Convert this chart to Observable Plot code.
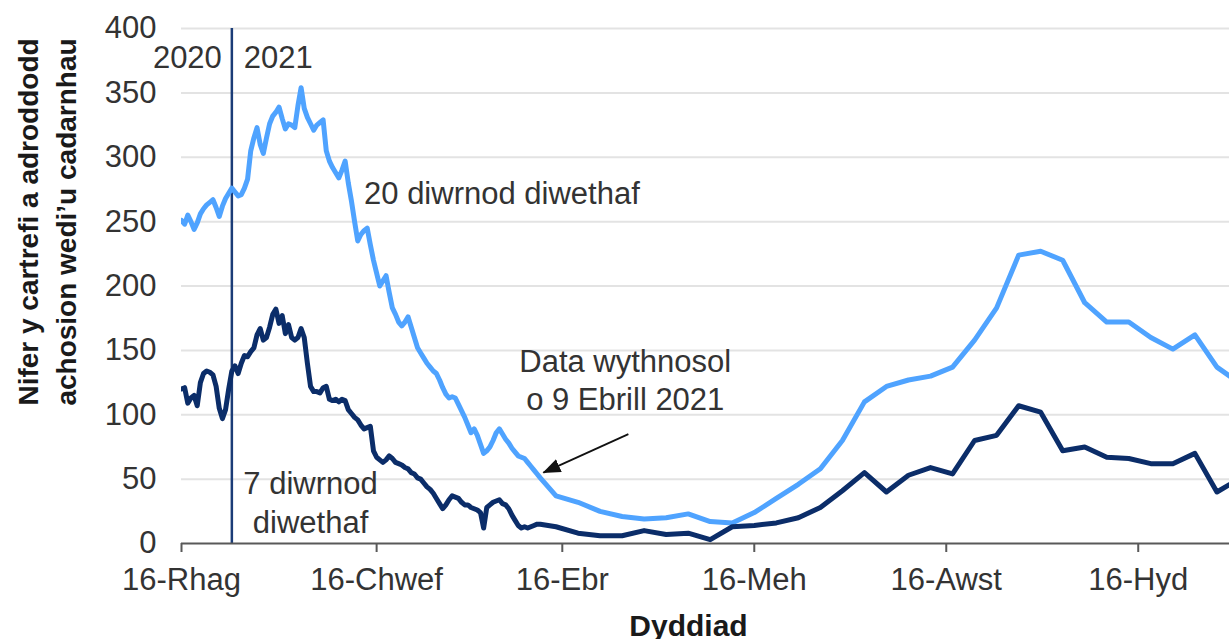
<!DOCTYPE html>
<html><head><meta charset="utf-8">
<script src="https://cdn.jsdelivr.net/npm/d3@7"></script>
<script src="https://cdn.jsdelivr.net/npm/@observablehq/plot@0.6"></script>
<style>
html,body{margin:0;padding:0;background:#fff;}
#chart{width:1229px;height:639px;overflow:hidden;}
</style></head><body><div id="chart"></div>
<script>
// ---- data ----
const seriesNames = ["20 diwrnod diwethaf", "7 diwrnod diwethaf"];
const dailyStart = "2020-12-16";   // daily values, one per day
const weeklyStart = "2021-04-14";  // weekly values, one per week

const light20Daily = [
  251,248,255,250,244,249,256,260,263,265,
  267,261,254,262,268,272,276,273,270,271,
  276,283,305,315,323,310,303,315,326,332,
  335,339,330,322,326,325,323,340,354,338,
  331,326,321,325,327,329,305,297,292,288,
  284,290,297,280,266,250,235,240,243,245,
  232,220,210,200,204,208,195,183,178,172,
  169,172,176,168,160,152,148,144,140,137,
  134,132,127,121,116,113,114,113,108,103,
  98,92,86,89,84,77,70,72,75,80,
  86,89,85,81,78,74,71,68,67,66,
  63,60,57,54,51
];
const dark7Daily = [
  120,121,109,113,115,107,125,132,134,133,
  131,122,105,97,104,120,134,138,132,140,
  146,145,149,152,162,167,158,160,168,178,
  182,171,177,163,170,160,158,160,167,160,
  140,122,118,118,117,121,122,112,111,112,
  110,112,111,104,101,98,96,92,89,90,
  91,72,67,65,63,65,68,66,63,62,
  61,59,58,55,54,51,50,47,44,42,
  39,35,31,27,30,34,37,36,35,32,
  30,30,28,27,26,24,12,28,30,32,
  33,34,31,30,27,22,18,14,12,13,
  12,13,14,15,15
];
const light20Weekly = [37,32,25,21,19,20,23,17,16,24,35,46,58,80,110,122,127,130,137,158,183,224,227,220,187,172,172,160,151,162,137,125];
const dark7Weekly   = [13,8,6,6,10,7,8,3,13,14,16,20,28,41,55,40,53,59,54,80,84,107,102,72,75,67,66,62,62,70,40,50];

const xDomain = ["2020-12-16", "2021-11-14"];
const xTickDates = ["2020-12-16","2021-02-16","2021-04-16","2021-06-16","2021-08-16","2021-10-16"];
const xTickLabels = ["16-Rhag","16-Chwef","16-Ebr","16-Meh","16-Awst","16-Hyd"];
const yTicks = [0,50,100,150,200,250,300,350,400];
const yearBreak = "2021-01-01";
const yearLabels = ["2020", "2021"];
const yTitle = "Nifer y cartrefi a adroddodd\nachosion wedi\u2019u cadarnhau";
const xTitle = "Dyddiad";
const notes = [
  {date:"2021-02-12", value:273, text:"20 diwrnod diwethaf", anchor:"start"},
  {date:"2021-05-06", value:128, text:"Data wythnosol\no 9 Ebrill 2021", anchor:"middle"},
  {date:"2021-01-26", value:33, text:"7 diwrnod\ndiwethaf", anchor:"middle"}
];
const arrowData = [{from:"2021-05-07", fromV:85, to:"2021-04-10", toV:55}];

// ---- build ----
const parse = d3.utcParse("%Y-%m-%d");
const fmt = d3.utcFormat("%Y-%m-%d");
const rows = [];
const d0 = parse(dailyStart), w0 = parse(weeklyStart);
light20Daily.forEach((v,i)=>rows.push({date:d3.utcDay.offset(d0,i), value:v, series:seriesNames[0]}));
light20Weekly.forEach((v,i)=>rows.push({date:d3.utcDay.offset(w0,7*i), value:v, series:seriesNames[0]}));
dark7Daily.forEach((v,i)=>rows.push({date:d3.utcDay.offset(d0,i), value:v, series:seriesNames[1]}));
dark7Weekly.forEach((v,i)=>rows.push({date:d3.utcDay.offset(w0,7*i), value:v, series:seriesNames[1]}));

const font = "'Liberation Sans', Arial, Helvetica, sans-serif";
const txt = "#333333";
const yb = parse(yearBreak);
const fs = 31;

const svg = Plot.plot({
  width: 1229, height: 639,
  marginLeft: 181, marginRight: 0, marginTop: 28, marginBottom: 96,
  style: {fontFamily: font, background: "#fff", color: txt, overflow: "hidden"},
  x: {type: "utc", domain: xDomain.map(parse)},
  y: {domain: [0, 400]},
  color: {domain: seriesNames, range: ["#4fa3ff", "#0b2d69"]},
  marks: [
    Plot.ruleY(yTicks.filter(d => d > 0), {stroke: "#e3e3e3", strokeWidth: 2}),
    Plot.axisY({ticks: yTicks, tickSize: 0, tickPadding: 25, label: null, fontSize: fs, fill: txt}),
    Plot.ruleX([yb], {stroke: "#1b3c77", strokeWidth: 2.5}),
    Plot.lineY(rows, {x: "date", y: "value", z: "series", stroke: "series", strokeWidth: 5, clip: true, strokeLinejoin: "round"}),
    Plot.ruleY([0], {stroke: "#595959", strokeWidth: 2}),
    Plot.axisX({ticks: xTickDates.map(parse), tickFormat: d => xTickLabels[xTickDates.indexOf(fmt(d))],
      tickSize: 9, tickPadding: 15, label: null, fontSize: fs, stroke: "#595959", strokeWidth: 2, fill: txt}),
    Plot.text([yearLabels[0]], {x: () => yb, y: () => 377, text: d => d, textAnchor: "end", dx: -10, fontSize: fs, fill: txt}),
    Plot.text([yearLabels[1]], {x: () => yb, y: () => 377, text: d => d, textAnchor: "start", dx: 12, fontSize: fs, fill: txt}),
    ...notes.map(n => Plot.text([n], {x: d => parse(d.date), y: "value", text: "text", textAnchor: n.anchor, lineAnchor: "middle", lineHeight: 1.25, fontSize: fs, fill: txt})),
    Plot.link(arrowData, {x1: d => parse(d.from), y1: "fromV", x2: d => parse(d.to), y2: "toV", stroke: "#111", strokeWidth: 1.8}),
    Plot.text([yTitle], {frameAnchor: "left", text: d => d, rotate: -90, textAnchor: "middle", lineAnchor: "middle", dx: -137, dy: -64, lineHeight: 1.38, fontSize: 28, fontWeight: "bold", fill: "#1a1a1a"}),
    Plot.text([xTitle], {frameAnchor: "bottom", text: d => d, textAnchor: "middle", lineAnchor: "middle", dx: -17, dy: 83, fontSize: 30, fontWeight: "bold", fill: "#1a1a1a"})
  ]
});

// filled arrowhead for the annotation arrow
const s = d3.select(svg);
const defs = s.insert("defs", ":first-child");
defs.append("marker").attr("id", "ahead").attr("viewBox", "0 0 18 14")
  .attr("refX", 17).attr("refY", 7).attr("markerWidth", 18).attr("markerHeight", 14)
  .attr("markerUnits", "userSpaceOnUse").attr("orient", "auto")
  .append("path").attr("d", "M0,0L18,7L0,14z").attr("fill", "#111");
s.selectAll('g[aria-label="link"] path').attr("marker-end", "url(#ahead)");

document.getElementById("chart").appendChild(svg);
</script>
</body></html>
